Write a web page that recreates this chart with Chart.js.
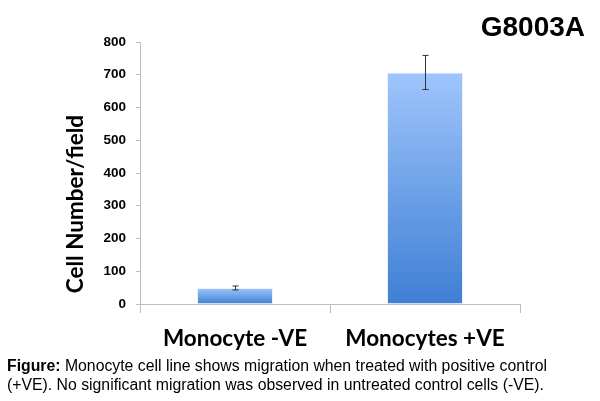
<!DOCTYPE html>
<html>
<head>
<meta charset="utf-8">
<script src="https://cdn.jsdelivr.net/npm/chart.js@4.4.1/dist/chart.umd.min.js"></script>
<style>
  html, body { margin:0; padding:0; background:#fff; }
  #wrap { position:relative; width:600px; height:401px; overflow:hidden; }
  #c { position:absolute; left:0; top:0; }
  #title { position:absolute; right:15px; top:11px; font:bold 28px "Liberation Sans", Arial, sans-serif; color:#000; }
  #caption { position:absolute; left:7px; top:356px; width:593px; white-space:nowrap; font:15.8px/19px "Liberation Sans", Arial, sans-serif; color:#000; }
</style>
</head>
<body>
<div id="wrap">
  <canvas id="c" width="600" height="401"></canvas>
  <div id="title">G8003A</div>
  <div id="caption"><b>Figure:</b> Monocyte cell line shows migration when treated with positive control<br>(+VE). No significant migration was observed in untreated control cells (-VE).</div>
</div>
<script>
// datos
const categories = ['Monocyte -VE', 'Monocytes +VE'];
const cellCounts = [49, 707];
const errors = [6, 52];
const yTicks = [0, 100, 200, 300, 400, 500, 600, 700, 800];

const labelFont = '"Lato", "Open Sans", sans-serif';

// barras de error
const errorBars = {
  id: 'errorBars',
  afterDatasetsDraw(chart){
    const ctx = chart.ctx;
    const meta = chart.getDatasetMeta(0);
    const y = chart.scales.y;
    ctx.save();
    ctx.strokeStyle = '#333';
    ctx.lineWidth = 1;
    meta.data.forEach((bar, i) => {
      const x = Math.round(bar.x) + 0.5;
      const top = y.getPixelForValue(cellCounts[i] + errors[i]);
      const bot = y.getPixelForValue(cellCounts[i] - errors[i]);
      ctx.beginPath();
      ctx.moveTo(x, top); ctx.lineTo(x, bot);
      ctx.moveTo(x - 3, top); ctx.lineTo(x + 3, top);
      ctx.moveTo(x - 3, bot); ctx.lineTo(x + 3, bot);
      ctx.stroke();
    });
    ctx.restore();
  }
};

// título del eje Y, algo desplazado hacia abajo como en el original
const yTitle = {
  id: 'yTitle',
  afterDraw(chart){
    const ctx = chart.ctx;
    ctx.save();
    ctx.translate(76, 204);
    ctx.rotate(-Math.PI/2);
    ctx.font = 'bold 22.5px ' + labelFont;
    ctx.fillStyle = '#000';
    ctx.textAlign = 'center';
    ctx.textBaseline = 'middle';
    ctx.fillText('Cell Number/field', 0, 0);
    ctx.restore();
  }
};

function barGradient(context){
  const chart = context.chart;
  if (!chart.chartArea) return '#6a9fe6';
  const y = chart.scales.y;
  const v = context.raw || 0;
  const top = y.getPixelForValue(v);
  const base = y.getPixelForValue(0);
  const g = chart.ctx.createLinearGradient(0, top, 0, base);
  g.addColorStop(0, '#9fc5fc');
  g.addColorStop(1, '#3f7fd4');
  return g;
}

new Chart(document.getElementById('c'), {
  type: 'bar',
  data: {
    labels: categories,
    datasets: [{
      data: cellCounts,
      backgroundColor: barGradient,
      borderColor: 'rgba(235,240,248,0.9)',
      borderWidth: 1,
      borderSkipped: 'bottom',
      categoryPercentage: 1,
      barPercentage: 0.4
    }]
  },
  options: {
    responsive: false,
    animation: false,
    layout: { padding: { left: 0, right: 80, top: 42, bottom: 0 } },
    plugins: { legend: { display: false }, tooltip: { enabled: false }, title: { display: false } },
    scales: {
      x: {
        offset: true,
        grid: { display: true, drawOnChartArea: false, offset: true, tickLength: 9, color: '#bdbdbd' },
        border: { color: '#bdbdbd' },
        ticks: { color: '#000', padding: 12, font: { family: labelFont, weight: 'bold', size: 22.5 } },
        afterFit(s){ s.height = 97; }
      },
      y: {
        min: 0, max: 800,
        afterBuildTicks(s){ s.ticks = yTicks.map(v => ({ value: v })); },
        grid: { display: true, drawOnChartArea: false, tickLength: 4, color: '#bdbdbd' },
        border: { color: '#bdbdbd' },
        ticks: { color: '#000', padding: 10, font: { family: '"Liberation Sans", Arial, sans-serif', weight: 'bold', size: 13.5 } },
        afterFit(s){ s.width = 140; }
      }
    }
  },
  plugins: [errorBars, yTitle]
});
</script>
</body>
</html>
